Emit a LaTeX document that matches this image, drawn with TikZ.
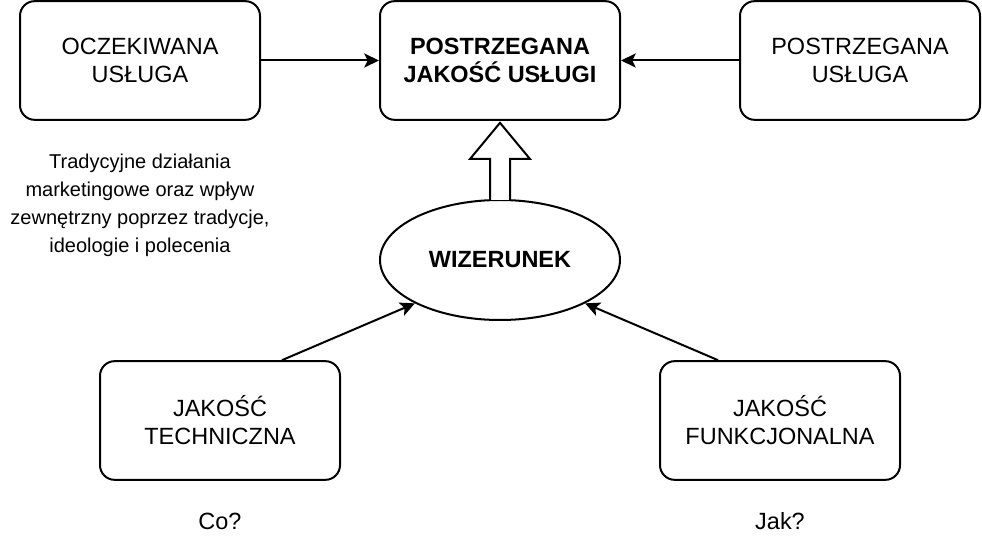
\documentclass[tikz,border=0pt]{standalone}
\usepackage{fontspec}
\setmainfont{Liberation Sans}
\usetikzlibrary{shapes.geometric,arrows.meta,calc}
\begin{document}
\begin{tikzpicture}[x=0.75pt,y=-0.75pt,
  box/.style={draw,line width=1.5pt,rounded corners=11pt,minimum width=180pt,minimum height=89pt,inner sep=0pt,align=center,font=\fontsize{17.6pt}{21pt}\selectfont},
  oval/.style={draw,ellipse,line width=1.5pt,minimum width=180pt,minimum height=90pt,inner sep=0pt,align=center,font=\fontsize{17.6pt}{21pt}\selectfont\bfseries},
  note/.style={align=center,inner sep=0pt,font=\fontsize{15pt}{21pt}\selectfont},
  qlabel/.style={inner sep=0pt,font=\fontsize{17.6pt}{21pt}\selectfont},
  conn/.style={line width=1.5pt,-{Stealth[length=11pt,width=10.5pt,inset=2.5pt]}}
]
\useasboundingbox (0,0) rectangle (982,552);
\node[box] (exp) at (140,60.5) {OCZEKIWANA\\USŁUGA};
\node[box,font=\fontsize{17.6pt}{21pt}\selectfont\bfseries] (per) at (500,60.5) {POSTRZEGANA\\JAKOŚĆ USŁUGI};
\node[box] (srv) at (860,60.5) {POSTRZEGANA\\USŁUGA};
\node[oval] (wiz) at (500,260) {WIZERUNEK};
\node[box] (tech) at (220,420.5) {JAKOŚĆ\\TECHNICZNA};
\node[box] (func) at (780,420.5) {JAKOŚĆ\\FUNKCJONALNA};
\node[note] (txt) at (140,205) {Tradycyjne działania\\marketingowe oraz wpływ\\zewnętrzny poprzez tradycje,\\ideologie i polecenia};
\node[qlabel] (co) at (220,521) {Co?};
\node[qlabel] (jak) at (780,521) {Jak?};
\draw[conn] (exp.east) -- (per.west);
\draw[conn] (srv.west) -- (per.east);
\draw[conn] ($(tech.north)+(62,0)$) -- (wiz.207);
\draw[conn] ($(func.north)+(-62,0)$) -- (wiz.333);
\draw[line width=1.5pt,line join=miter,fill=white]
  ($(wiz.north)+(-10,1)$) -- ($(wiz.north)+(-10,-40)$) -- ($(wiz.north)+(-30,-40)$)
  -- ($(per.south)+(0,2)$) -- ($(wiz.north)+(30,-40)$) -- ($(wiz.north)+(10,-40)$)
  -- ($(wiz.north)+(10,1)$);
\end{tikzpicture}
\end{document}
